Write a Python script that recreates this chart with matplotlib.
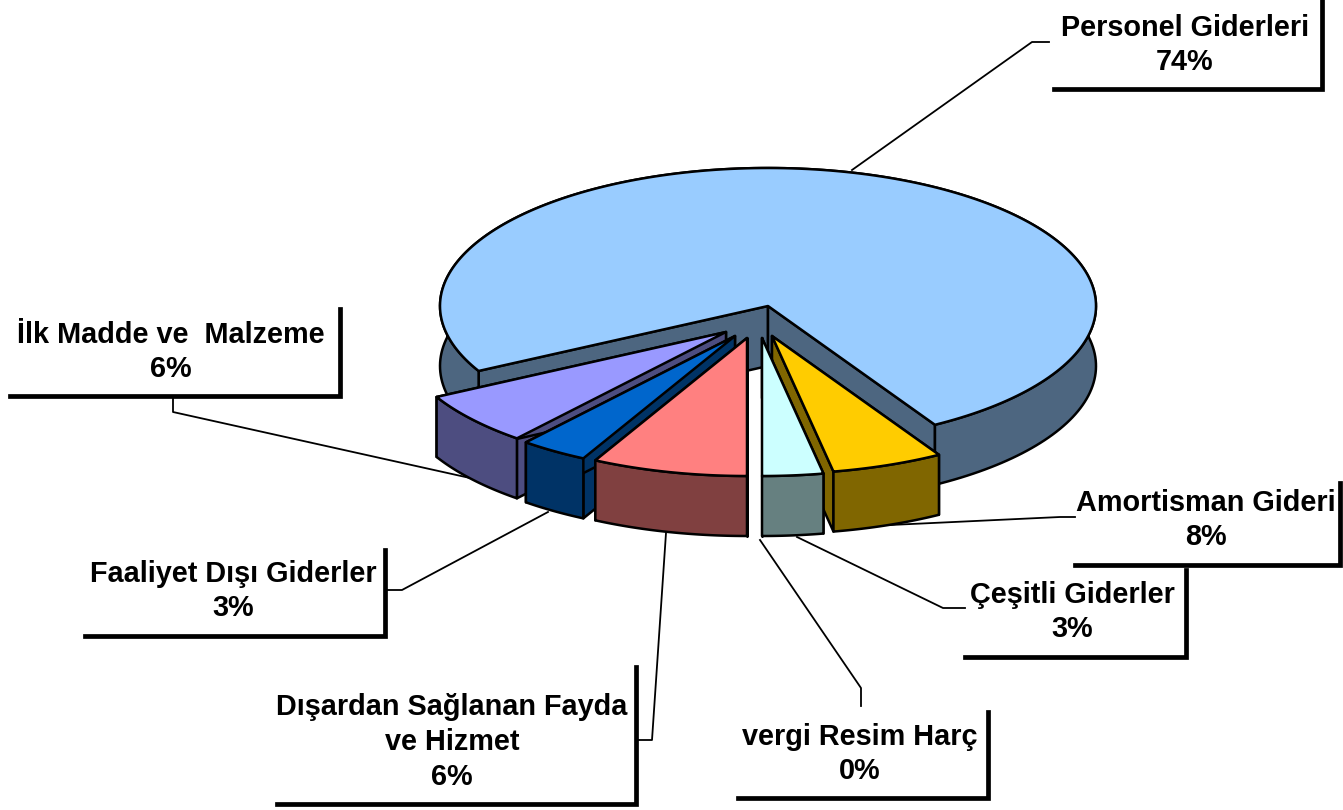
import numpy as np
from matplotlib import pyplot as plt
from matplotlib.patches import Polygon

# labels as printed on the chart
names = ['Personel Giderleri', 'Amortisman Gideri', 'Çeşitli Giderler', 'vergi Resim Harç',
         'Dışardan Sağlanan Fayda\nve Hizmet', 'Faaliyet Dışı Giderler', 'İlk Madde ve  Malzeme']
printed_pct = [74, 8, 3, 0, 6, 3, 6]
# slice sizes as they are actually drawn (% of the circle)
drawn_share = [74.3, 5.5, 3.0, 0.0, 7.65, 3.35, 6.2]

top_colors = ['#99CCFF', '#FFCC00', '#CCFFFF', '#FFFFFF', '#FF8080', '#0066CC', '#9999FF']
side_colors = ['#4D6680', '#806600', '#668080', '#808080', '#804040', '#003366', '#4D4D80']

# pie geometry, in pixels
cx, cy = 768, 306
rx, ry = 328, 138
depth = 60
start_angle = 59.4
# how far each slice is pulled out of the pie
explode_dx = [0, 4, -6, -13, -21, -33, -42]
explode_dy = [0, 30, 32, 32, 32, 30, 26]
draw_order = [0, 1, 2, 6, 5, 4]

# label boxes: right edge, top of right edge, left end of bottom edge, bottom edge
box_right = [1322, 1340, 1186, 988, 636, 385, 340]
box_top = [1, 483, 570, 712, 667, 550, 309]
box_left = [1054, 1075, 965, 738, 277, 85, 10]
box_bottom = [89, 565, 657, 798, 804, 636, 396]
text_x = [1185, 1206, 1072, 860, 452, 233, 171]
text_y = [45, 520, 612, 754, 742, 591, 352]

# leader lines
leader_x = [[852, 1032, 1049], [890, 1060, 1075], [797, 943, 965], [760, 861, 861],
            [666, 652, 636], [548, 402, 385], [470, 173, 173]]
leader_y = [[170, 42, 42], [525, 517, 517], [537, 608, 608], [540, 688, 706],
            [533, 740, 740], [512, 590, 590], [478, 412, 397]]


def arc(ax0, ay0, t0, t1):
    t = np.radians(np.linspace(t0, t1, 200))
    return np.column_stack([ax0 + rx*np.cos(t), ay0 + ry*np.sin(t)])


def draw_slice(ax, i, t0, t1):
    ax0 = cx + explode_dx[i]
    ay0 = cy + explode_dy[i]
    top = arc(ax0, ay0, t0, t1)
    low = top + [0, depth]
    apex = np.array([ax0, ay0])
    style = dict(edgecolor='black', linewidth=1.8, joinstyle='round')

    # cut faces first, then outer wall, then the top covers what is hidden
    for p in (top[0], top[-1]):
        face = [apex, p, p + [0, depth], apex + [0, depth]]
        ax.add_patch(Polygon(face, facecolor=side_colors[i], zorder=3, **style))
    wall = np.vstack([top, low[::-1]])
    ax.add_patch(Polygon(wall, facecolor=side_colors[i], zorder=3, **style))
    ax.add_patch(Polygon(np.vstack([apex, top]), facecolor=top_colors[i], zorder=3, **style))


fig = plt.figure(figsize=(13.43, 8.10), dpi=100)
ax = fig.add_axes([0, 0, 1, 1])
ax.set_xlim(0, 1343)
ax.set_ylim(810, 0)
ax.axis('off')

# leaders go behind the pie
for i in range(len(names)):
    ax.plot(leader_x[i], leader_y[i], color='black', linewidth=1.3, zorder=1)

angles = start_angle + np.cumsum([0] + [s*3.6 for s in drawn_share[1:] + drawn_share[:1]])
# order around the circle: Amortisman ... Ilk Madde, then Personel
t_start = {}
for k, i in enumerate([1, 2, 3, 4, 5, 6, 0]):
    t_start[i] = (angles[k], angles[k+1])

for i in draw_order:
    draw_slice(ax, i, *t_start[i])

for i in range(len(names)):
    ax.plot([box_left[i], box_right[i], box_right[i]], [box_bottom[i], box_bottom[i], box_top[i]],
            color='black', linewidth=3.4, solid_joinstyle='miter', zorder=4)
    ax.text(text_x[i], text_y[i], names[i] + '\n' + str(printed_pct[i]) + '%', ha='center', va='center',
            family='Liberation Sans', fontweight='bold', fontsize=20.8, linespacing=1.3, zorder=5)

fig.savefig('out.png', dpi=100)
